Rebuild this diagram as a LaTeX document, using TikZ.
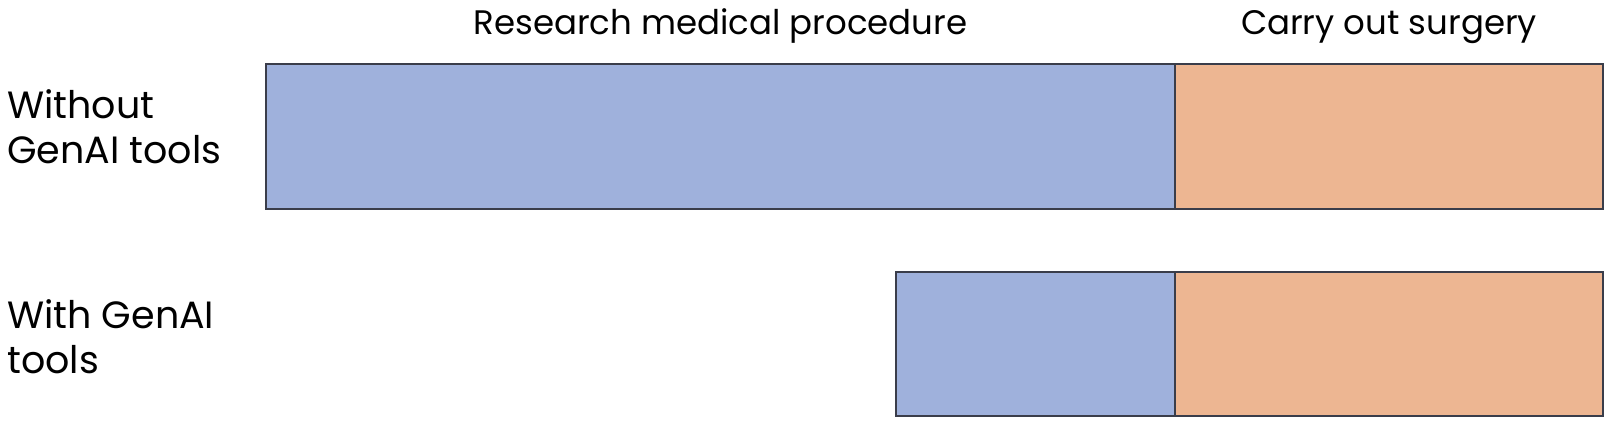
\documentclass[tikz,border=0pt]{standalone}
\usepackage{fontspec}
\setmainfont{Poppins}
\definecolor{barblue}{HTML}{9FB1DC}
\definecolor{barorange}{HTML}{EDB692}
\definecolor{baredge}{HTML}{3A3D4A}
\begin{document}
\begin{tikzpicture}[x=1pt,y=-1pt,
  bar/.style={draw=baredge, line width=2.5pt, inner sep=0pt, outer sep=0pt, anchor=north west},
  lbl/.style={font=\fontsize{38}{45}\selectfont, inner sep=0pt, text=black},
  head/.style={font=\fontsize{34}{40}\selectfont, inner sep=0pt, text=black}]
\useasboundingbox[fill=white] (0,0) rectangle (1624,444);
\node[bar, fill=barblue, minimum width=909pt, minimum height=145pt] (r1) at (266,64) {};
\node[bar, fill=barorange, minimum width=428pt, minimum height=145pt] (s1) at (1175,64) {};
\node[bar, fill=barblue, minimum width=279pt, minimum height=144pt] (r2) at (896,272) {};
\node[bar, fill=barorange, minimum width=428pt, minimum height=144pt] (s2) at (1175,272) {};
\node[head, anchor=base] (tr) at (720.5,35) {Research medical procedure};
\node[head, anchor=base] (ts) at (1389,35) {Carry out surgery};
\node[lbl, anchor=base west, align=left] (l1) at (7,163) {Without\\GenAI tools};
\node[lbl, anchor=base west, align=left] (l2) at (7,373) {With GenAI\\tools};
\end{tikzpicture}
\end{document}
